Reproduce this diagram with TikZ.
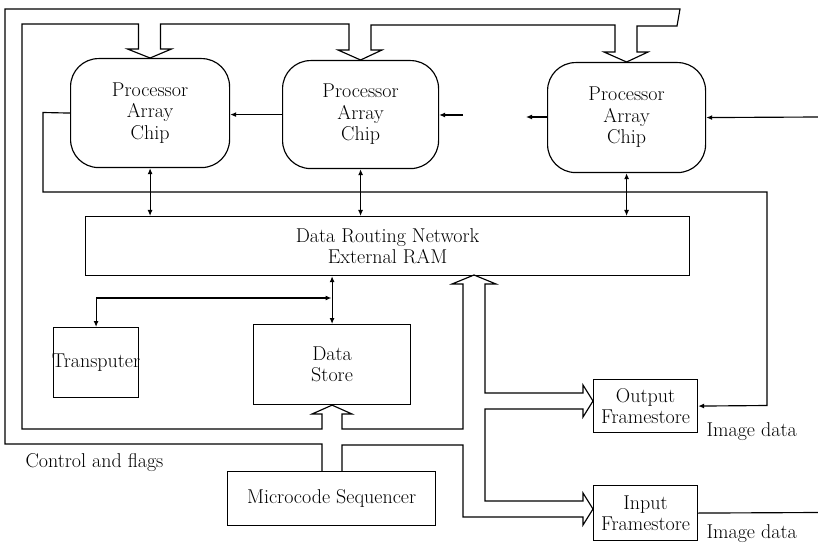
\documentclass[tikz,border=0pt]{standalone}
\usetikzlibrary{arrows.meta}
\begin{document}
\begin{tikzpicture}[x=1pt,y=-1pt,line width=1.15pt,
  box/.style={draw,inner sep=0pt,anchor=north west,align=center,font=\fontsize{20}{21.5}\selectfont},
  chip/.style={box,rounded corners=28pt},
  lbl/.style={inner sep=0pt,font=\fontsize{20}{21.5}\selectfont},
  sig/.style={-{Latex[length=6pt,width=5pt]}},
  bisig/.style={{Latex[length=6pt,width=5pt]}-{Latex[length=6pt,width=5pt]}},
  bus/.style={line join=miter}]
\useasboundingbox (0,0) rectangle (818,545);

% processor array chips
\node[chip,minimum width=159pt,minimum height=109pt] (c1) at (70,58) {Processor\\Array\\Chip};
\node[chip,minimum width=156pt,minimum height=108pt] (c2) at (282,60) {Processor\\Array\\Chip};
\node[chip,minimum width=158pt,minimum height=110pt] (c3) at (547,62) {Processor\\Array\\Chip};

% other blocks
\node[box,minimum width=604pt,minimum height=59pt] (drn) at (85,216) {Data Routing Network\\External RAM};
\node[box,minimum width=85pt,minimum height=70pt] (tp) at (53,327) {\makebox[0pt]{Transputer}};
\node[box,minimum width=157pt,minimum height=80pt] (ds) at (253,324) {Data\\Store};
\node[box,minimum width=208pt,minimum height=54pt] (ms) at (227,471) {Microcode Sequencer};
\node[box,minimum width=104pt,minimum height=53pt] (of) at (593,379) {Output\\Framestore};
\node[box,minimum width=104pt,minimum height=55pt] (if) at (593,485) {Input\\Framestore};

% free labels
\node[lbl,anchor=west] (cf) at (25,463) {Control and flags};
\node[lbl,anchor=west] (id1) at (706,432) {Image data};
\node[lbl,anchor=west] (id2) at (706,534) {Image data};

% control bus from the microcode sequencer (drawn as a hollow double-line bus)
\draw[bus] (322,471) -- (322,444) -- (5,444) -- (5,9) -- (680,9) -- (677,26)
  -- (637,26) -- (637,52) -- (648,52) -- (c3.north) -- (604,52) -- (615,52)
  -- (615,25) -- (371,25) -- (371,50) -- (382,50) -- (c2.north) -- (338,50)
  -- (349,50) -- (349,24) -- (160.5,24) -- (160.5,49) -- (171.5,49) -- (c1.north)
  -- (127.5,49) -- (138.5,49) -- (138.5,24) -- (22,24) -- (22,429) -- (322,429)
  -- (322,414) -- (312,414) -- (ds.south) -- (352,414) -- (342,414) -- (342,429)
  -- (463,429) -- (463,284) -- (452,284) -- (474,275) -- (496,284) -- (485,284)
  -- (485,393) -- (583,393) -- (583,385) -- (593,401) -- (583,417) -- (583,409)
  -- (485,409) -- (485,501) -- (583,501) -- (583,493) -- (593,509) -- (583,525)
  -- (583,517) -- (463,517) -- (463,445) -- (342,445) -- (342,471);

% chips <-> data routing network
\draw[bisig] (c1.south) -- (c1.south |- drn.north);
\draw[bisig] (c2.south) -- (c2.south |- drn.north);
\draw[bisig] (c3.south) -- (c3.south |- drn.north);

% data routing network <-> data store, branch to transputer
\draw[bisig] (ds.north |- drn.south) -- (ds.north);
\coordinate (j) at (331.5,298);
\draw[bisig] (tp.north) |- (j);

% links between chips
\draw[sig] (c2.west) -- (c2.west -| c1.east);
\coordinate (b1) at (463,115);
\draw[sig] (b1) -- (b1 -| c2.east);
\coordinate (b2) at (526,117);
\draw[sig] (b2 -| c3.west) -- (b2);
\coordinate (b3) at (818,117);
\draw[sig] (b3) -- (c3.east);

% first chip to output framestore
\coordinate (k1) at (43,112.5);
\coordinate (k2) at (43,192);
\coordinate (k3) at (767,192);
\coordinate (k4) at (767,405.5);
\draw[sig] (c1.west) -- (k1) -- (k2) -- (k3) -- (k4) -- (of.east);

% image data into input framestore
\coordinate (e1) at (818,512.5);
\draw (if.east) -- (e1);
\end{tikzpicture}
\end{document}
